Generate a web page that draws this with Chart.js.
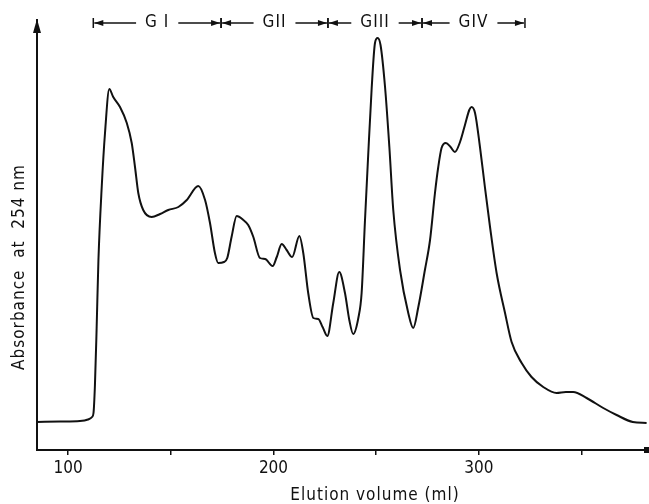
<!DOCTYPE html>
<html>
<head>
<meta charset="utf-8">
<script src="https://cdn.jsdelivr.net/npm/chart.js@4.4.1/dist/chart.umd.min.js"></script>
<style>
  html, body { margin: 0; padding: 0; background: #fff; }
  canvas { display: block; }
</style>
</head>
<body>
<canvas id="chart" width="649" height="504"></canvas>
<script>
// elution volume (ml) and absorbance (arbitrary units)
const volume = [
  84.9, 96.1, 105.8, 109.7, 111.7, 112.4, 113.1, 113.9, 114.8, 116.4,
  118.0, 120.1, 122.0, 125.3, 128.6, 131.0, 132.6, 134.2, 136.6, 140.7,
  144.8, 148.8, 153.7, 157.8, 163.4, 166.7, 169.1, 171.5, 173.1, 175.9,
  177.5, 179.6, 182.1, 185.3, 187.7, 190.2, 193.4, 195.9, 199.6, 201.6,
  204.0, 206.4, 209.1, 212.6, 214.5, 216.9, 219.4, 221.8, 223.9, 226.2,
  229.1, 232.0, 234.8, 236.9, 238.8, 241.3, 242.9, 244.5, 246.1, 247.8,
  249.4, 250.7, 252.1, 254.3, 256.4, 258.3, 261.6, 265.6, 268.0, 270.5,
  273.7, 276.2, 278.6, 280.2, 281.8, 283.9, 286.2, 288.3, 290.8, 293.2,
  295.3, 296.4, 298.1, 300.5, 302.9, 305.4, 308.6, 312.7, 315.9, 320.8,
  325.6, 331.3, 337.8, 342.3, 345.9, 352.4, 360.5, 367.0, 374.9, 381.6
];
const absorbance = [
  0.28, 0.285, 0.29, 0.305, 0.33, 0.37, 0.65, 1.20, 1.90, 2.63,
  3.17, 3.61, 3.53, 3.43, 3.27, 3.07, 2.83, 2.57, 2.40, 2.33,
  2.36, 2.40, 2.43, 2.50, 2.64, 2.50, 2.27, 1.97, 1.87, 1.88,
  1.92, 2.13, 2.34, 2.30, 2.25, 2.13, 1.92, 1.91, 1.84, 1.93,
  2.06, 2.00, 1.93, 2.14, 1.97, 1.57, 1.32, 1.31, 1.23, 1.14,
  1.47, 1.78, 1.57, 1.30, 1.16, 1.32, 1.57, 2.28, 2.95, 3.62,
  4.07, 4.12, 4.05, 3.63, 3.03, 2.40, 1.80, 1.37, 1.22, 1.43,
  1.80, 2.10, 2.57, 2.83, 3.02, 3.07, 3.03, 2.98, 3.08, 3.25,
  3.40, 3.43, 3.37, 3.03, 2.63, 2.23, 1.77, 1.37, 1.08, 0.87,
  0.73, 0.63, 0.57, 0.58, 0.58, 0.52, 0.42, 0.35, 0.28, 0.27
];
const tickValues = [100, 150, 200, 250, 300, 350];
const tickLabels = ['100', '200', '300'];
const groupNames = ['G I', 'GII', 'GIII', 'GIV'];
const groupEdges = [112.3, 174.5, 226.5, 272.3, 322.4];

const ink = '#111';
const family = '"DejaVu Sans Condensed", "DejaVu Sans", sans-serif';

function arrowTo(ctx, x0, x1, y) {
  const dir = x1 > x0 ? 1 : -1;
  ctx.beginPath();
  ctx.moveTo(x0, y);
  ctx.lineTo(x1, y);
  ctx.stroke();
  ctx.beginPath();
  ctx.moveTo(x1, y);
  ctx.lineTo(x1 - dir * 9, y - 3);
  ctx.lineTo(x1 - dir * 9, y + 3);
  ctx.closePath();
  ctx.fill();
}

const decor = {
  id: 'decor',
  afterDraw(chart) {
    const { ctx, chartArea, scales } = chart;
    const xs = scales.x;
    ctx.save();
    ctx.fillStyle = ink;
    ctx.strokeStyle = ink;

    // arrowhead on the absorbance axis
    ctx.beginPath();
    ctx.moveTo(chartArea.left, chartArea.top - 1);
    ctx.lineTo(chartArea.left - 4, chartArea.top + 13);
    ctx.lineTo(chartArea.left + 4, chartArea.top + 13);
    ctx.closePath();
    ctx.fill();

    // end mark of the volume axis
    ctx.fillRect(chartArea.right - 3, chartArea.bottom - 3, 5, 6);

    // axis titles
    ctx.font = '17px ' + family;
    ctx.letterSpacing = '1px';
    ctx.textAlign = 'center';
    ctx.textBaseline = 'middle';
    ctx.fillText('Elution volume (ml)', 375, 496);
    ctx.save();
    ctx.translate(20, 267);
    ctx.rotate(-Math.PI / 2);
    ctx.fillText('Absorbance  at  254 nm', 0, 0);
    ctx.restore();

    // fraction groups
    const y = 23;
    ctx.lineWidth = 1.5;
    groupNames.forEach((name, i) => {
      const a = xs.getPixelForValue(groupEdges[i]);
      const b = xs.getPixelForValue(groupEdges[i + 1]);
      const mid = (a + b) / 2;
      const w = ctx.measureText(name).width;
      ctx.fillText(name, mid, y);
      arrowTo(ctx, mid - w / 2 - 9, a + 1, y);
      arrowTo(ctx, mid + w / 2 + 9, b - 1, y);
      ctx.beginPath();
      ctx.moveTo(a, y - 5);
      ctx.lineTo(a, y + 5);
      ctx.moveTo(b, y - 5);
      ctx.lineTo(b, y + 5);
      ctx.stroke();
    });
    ctx.restore();
  }
};

new Chart(document.getElementById('chart'), {
  type: 'line',
  data: {
    datasets: [{
      data: volume.map((v, i) => ({ x: v, y: absorbance[i] })),
      borderColor: ink,
      borderWidth: 2,
      pointRadius: 0,
      fill: false,
      cubicInterpolationMode: 'monotone'
    }]
  },
  options: {
    responsive: false,
    animation: false,
    devicePixelRatio: 1,
    layout: { padding: { top: 20, right: 2, left: 0, bottom: 0 } },
    plugins: { legend: { display: false }, tooltip: { enabled: false } },
    scales: {
      x: {
        type: 'linear',
        min: 84.9,
        max: 381.8,
        afterFit: s => { s.height = 54; },
        afterBuildTicks: s => { s.ticks = tickValues.map(v => ({ value: v })); },
        ticks: {
          autoSkip: false,
          maxRotation: 0,
          padding: 3,
          color: ink,
          font: { family: family, size: 17 },
          callback: v => tickLabels.includes(String(v)) ? String(v) : ''
        },
        grid: { drawOnChartArea: false, drawTicks: true, tickLength: 5, color: ink, lineWidth: 1.5 },
        border: { display: true, color: ink, width: 2 }
      },
      y: {
        min: 0,
        max: 4.3,
        afterFit: s => { s.width = 37; },
        ticks: { display: false },
        grid: { display: false },
        border: { display: true, color: ink, width: 2 }
      }
    }
  },
  plugins: [decor]
});
</script>
</body>
</html>
